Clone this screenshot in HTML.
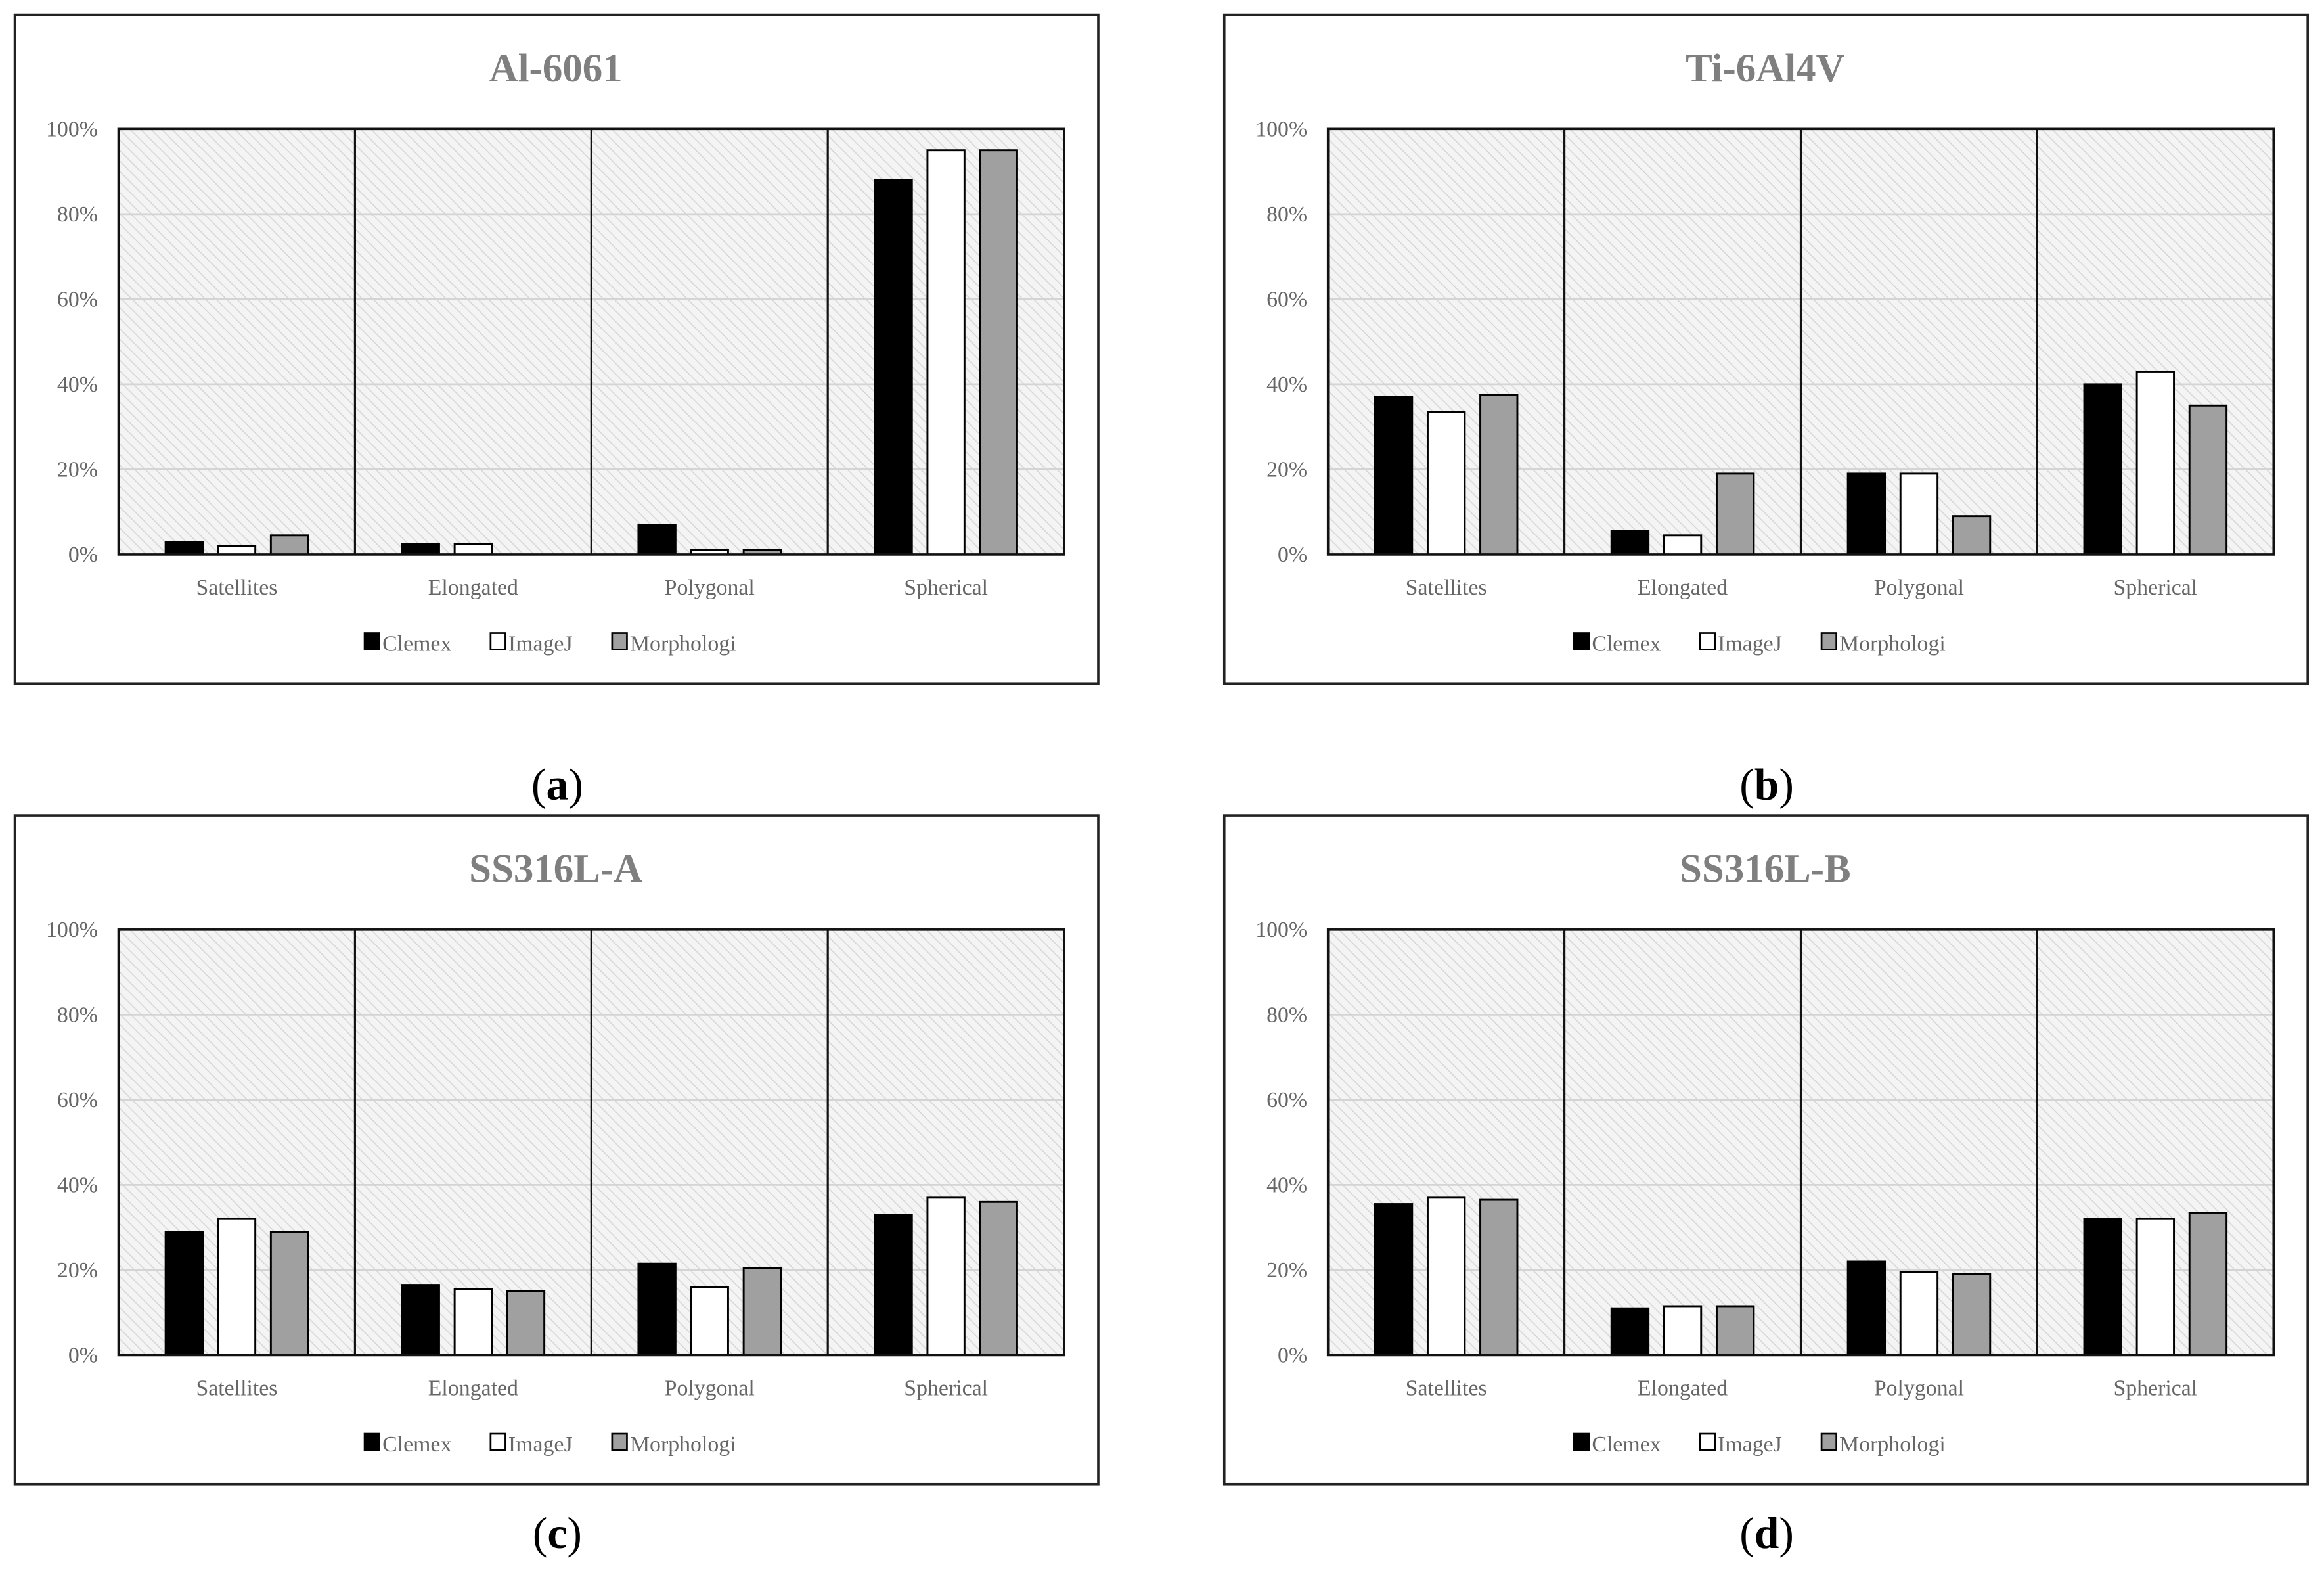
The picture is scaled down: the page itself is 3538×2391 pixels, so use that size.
<!DOCTYPE html>
<html><head><meta charset="utf-8"><style>
html,body{margin:0;padding:0;background:#fff;width:3538px;height:2391px;overflow:hidden}
svg{display:block}
text{font-family:"Liberation Serif",serif}
</style></head><body>
<svg id="fig" width="3538" height="2391" viewBox="0 0 1568 1059.6" preserveAspectRatio="none" xmlns="http://www.w3.org/2000/svg">
<defs>
<pattern id="hatch" patternUnits="userSpaceOnUse" width="5" height="5" patternTransform="rotate(-45)">
<rect width="5" height="5" fill="#f4f4f4"/>
<line x1="0" y1="0" x2="0" y2="5" stroke="#d6d6d6" stroke-width="1.4"/>
</pattern>
</defs>
</svg>
<script>
const categories=["Satellites","Elongated","Polygonal","Spherical"];
const seriesNames=["Clemex","ImageJ","Morphologi"];
const titles=["Al-6061","Ti-6Al4V","SS316L-A","SS316L-B"];
const panelLabels=["a","b","c","d"];
const yTicks=[0,20,40,60,80,100];
const a_clemex=[3,2.5,7,88];
const a_imagej=[2,2.5,1,95];
const a_morph=[4.5,0,1,95];
const b_clemex=[37,5.5,19,40];
const b_imagej=[33.5,4.5,19,43];
const b_morph=[37.5,19,9,35];
const c_clemex=[29,16.5,21.5,33];
const c_imagej=[32,15.5,16,37];
const c_morph=[29,15,20.5,36];
const d_clemex=[35.5,11,22,32];
const d_imagej=[37,11.5,19.5,32];
const d_morph=[36.5,11.5,19,33.5];
const panels=[[a_clemex,a_imagej,a_morph],[b_clemex,b_imagej,b_morph],[c_clemex,c_imagej,c_morph],[d_clemex,d_imagej,d_morph]];
const fills=["#000","#fff","#a0a0a0"];
const svg=document.getElementById('fig');
const NS="http://www.w3.org/2000/svg";
function mk(tag,attrs,parent){const e=document.createElementNS(NS,tag);for(const k in attrs)e.setAttribute(k,attrs[k]);(parent||svg).appendChild(e);return e;}
panels.forEach((data,p)=>{
  const ox=(p%2)*816, oy=Math.floor(p/2)*540;
  const g=mk('g',{transform:`translate(${ox},${oy})`});
  
  
  const frame=mk('rect',{x:10,y:10,width:731,height:451,fill:'#fff',stroke:'#222','stroke-width':1.6},g);
  
  
  const t=mk('text',{x:375,y:55,'text-anchor':'middle','font-size':27,'font-weight':'bold',fill:'#7f7f7f'},g);t.textContent=titles[p];
  
  
  const X0=80,X1=718,Y0=374,Y1=87;
  const yS=v=>Y0-(v/100)*(Y0-Y1);
  const cw=(X1-X0)/categories.length;
  const bg=mk('rect',{x:X0,y:Y1,width:X1-X0,height:Y0-Y1,fill:'url(#hatch)'},g);
  
  
  yTicks.forEach(v=>{
    const gl=mk('line',{x1:X0,x2:X1,y1:yS(v),y2:yS(v),stroke:'#d4d4d4','stroke-width':1.2},g);
    
    
    const tl=mk('text',{x:66,y:yS(v)+5,'text-anchor':'end','font-size':15,fill:'#666'},g);tl.textContent=v+'%';
    
    
  });
  categories.forEach((c,i)=>{
    const cx=X0+cw*(i+0.5);
    data.forEach((ser,s)=>{
      const v=ser[i]; if(v<=0) return;
      const bx=cx+(s-1)*35.5-12.5;
      const r=mk('rect',{x:bx,y:yS(v),width:25,height:Y0-yS(v),fill:fills[s],stroke:'#000','stroke-width':1.3},g);
      
      
    });
    const cl=mk('text',{x:cx,y:401,'text-anchor':'middle','font-size':15,fill:'#666'},g);cl.textContent=c;
    
    
    if(i>0){const d=mk('line',{x1:X0+cw*i,x2:X0+cw*i,y1:Y1,y2:Y0,stroke:'#111','stroke-width':1.4},g);
      
      }
  });
  const pb=mk('rect',{x:X0,y:Y1,width:X1-X0,height:Y0-Y1,fill:'none',stroke:'#111','stroke-width':1.6},g);
  
  
  const lx=[246,331,413];
  seriesNames.forEach((n,s)=>{
    const sq=mk('rect',{x:lx[s],y:427,width:10,height:11,fill:fills[s],stroke:'#000','stroke-width':1.2},g);
    
    
    const lt=mk('text',{x:lx[s]+12,y:439,'font-size':15,fill:'#666'},g);lt.textContent=n;
    
    
  });
  const ly = p<2 ? 539 : 504;
  const pl=mk('text',{x:376,y:ly,'text-anchor':'middle','font-size':30,fill:'#000'},g);
  
  
  pl.innerHTML='(<tspan font-weight="bold">'+panelLabels[p]+'</tspan>)';
});
</script>
</body></html>
